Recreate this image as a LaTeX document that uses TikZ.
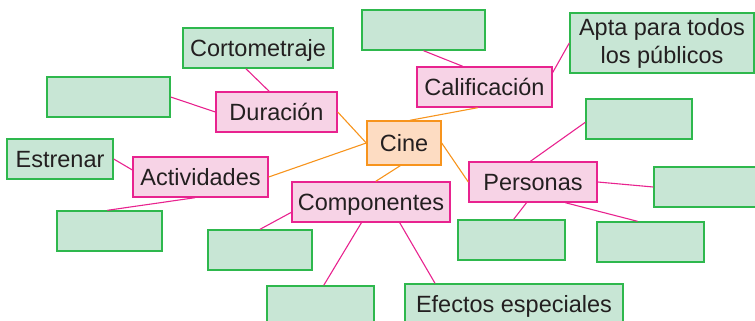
\documentclass[tikz,border=0pt]{standalone}
\usepackage{fontspec}
\setmainfont{Liberation Sans}
\usetikzlibrary{calc}
\definecolor{gfill}{HTML}{C8E6D5}
\definecolor{gline}{HTML}{2EB84D}
\definecolor{pfill}{HTML}{F7D3E6}
\definecolor{pline}{HTML}{E8238F}
\definecolor{ofill}{HTML}{FDDCC2}
\definecolor{oline}{HTML}{F7941D}
\definecolor{txt}{HTML}{231F20}
\tikzset{
  box/.style={draw, line width=1.4pt, inner sep=0pt, minimum height=40pt, text=txt,
    font=\fontsize{23.5}{28}\selectfont, text height=17pt, text depth=0pt},
  gbox/.style={box, fill=gfill, draw=gline},
  pbox/.style={box, fill=pfill, draw=pline},
  obox/.style={box, fill=ofill, draw=oline},
  pcon/.style={draw=pline, line width=1.1pt},
  ocon/.style={draw=oline, line width=1.1pt},
}
\begin{document}
\begin{tikzpicture}[x=1pt,y=-1pt]
\useasboundingbox (0,0) rectangle (755,321);
\clip (0,0) rectangle (755,321);
% nodes
\node[gbox, minimum width=150pt] (corto) at (258,48) {Cortometraje};
\node[gbox, minimum width=123pt] (eL1) at (108.5,97) {};
\node[pbox, minimum width=121pt] (dur) at (276.5,112) {Duración};
\node[gbox, minimum width=106pt] (estr) at (60,159) {Estrenar};
\node[gbox, minimum width=123pt] (eTop) at (423.5,30) {};
\node[obox, minimum width=74pt, minimum height=44pt] (cine) at (404,143) {Cine};
\node[pbox, minimum width=135pt] (calif) at (484.5,87) {Calificación};
\node[gbox, minimum width=184pt, minimum height=60pt, align=center, text height=, text depth=] (apta) at (662,43) {Apta para todos\\los públicos};
\node[gbox, minimum width=106pt] (eR1) at (639,119) {};
\node[pbox, minimum width=135pt] (act) at (200.5,177) {Actividades};
\node[gbox, minimum width=105pt] (eL2) at (109.5,231) {};
\node[pbox, minimum width=158pt] (comp) at (371,202) {Componentes};
\node[gbox, minimum width=104pt] (eC1) at (260,250) {};
\node[gbox, minimum width=107pt] (eC2) at (320.5,306) {};
\node[pbox, minimum width=128pt] (pers) at (533,182) {Personas};
\node[gbox, minimum width=110pt] (eR2) at (709,187) {};
\node[gbox, minimum width=107pt] (eP1) at (511.5,240) {};
\node[gbox, minimum width=107pt] (eP2) at (650.5,242) {};
\node[gbox, minimum width=218pt] (efec) at (514,304) {Efectos especiales};
% connectors
\draw[pcon] ($(corto.south west)!0.42!(corto.south east)$) -- ($(dur.north west)!0.44!(dur.north east)$);
\draw[pcon] (eL1.east) -- (dur.west);
\draw[ocon] (dur.east) -- (cine.west);
\draw[ocon] (act.east) -- (cine.west);
\draw[pcon] (estr.east) -- ($(act.north west)!0.33!(act.south west)$);
\draw[pcon] ($(act.south west)!0.46!(act.south east)$) -- ($(eL2.north west)!0.48!(eL2.north east)$);
\draw[ocon] ($(calif.south west)!0.45!(calif.south east)$) -- ($(cine.north west)!0.58!(cine.north east)$);
\draw[pcon] (eTop.south) -- ($(calif.north west)!0.34!(calif.north east)$);
\draw[pcon] (apta.west) -- ($(calif.north east)!0.15!(calif.south east)$);
\draw[ocon] (cine.east) -- (pers.west);
\draw[ocon] ($(cine.south west)!0.45!(cine.south east)$) -- ($(comp.north west)!0.53!(comp.north east)$);
\draw[pcon] ($(pers.north west)!0.48!(pers.north east)$) -- ($(eR1.north west)!0.58!(eR1.south west)$);
\draw[pcon] (pers.east) -- (eR2.west);
\draw[pcon] ($(pers.south west)!0.45!(pers.south east)$) -- ($(eP1.north west)!0.52!(eP1.north east)$);
\draw[pcon] ($(pers.south west)!0.75!(pers.south east)$) -- ($(eP2.north west)!0.38!(eP2.north east)$);
\draw[pcon] ($(comp.north west)!0.75!(comp.south west)$) -- (eC1.north);
\draw[pcon] ($(comp.south west)!0.44!(comp.south east)$) -- ($(eC2.north west)!0.53!(eC2.north east)$);
\draw[pcon] ($(comp.south west)!0.68!(comp.south east)$) -- ($(efec.north west)!0.14!(efec.north east)$);
\end{tikzpicture}
\end{document}
